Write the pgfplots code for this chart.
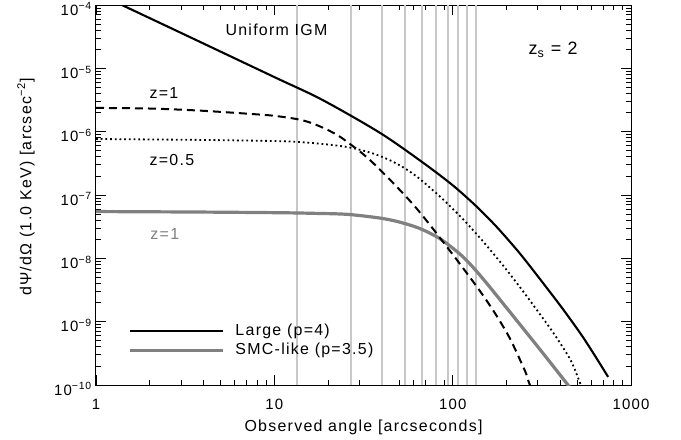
\documentclass[border=0pt]{standalone}
\usepackage{fontspec}
\setmainfont{Liberation Sans}[LetterSpace=8]
\usepackage{pgfplots}
\pgfplotsset{compat=1.18}
\definecolor{smcgray}{RGB}{128,128,128}
\definecolor{linegray}{RGB}{200,200,200}
\newcommand{\lab}{\fontsize{16}{19}\selectfont}
\begin{document}
\begin{tikzpicture}
\useasboundingbox (-96bp,-55bp) rectangle (585bp,385bp);
\begin{axis}[
  scale only axis,
  width=535bp, height=380bp,
  xmode=log, ymode=log,
  xmin=1, xmax=1000, ymin=1e-10, ymax=1e-4,
  xtick={1,10,100,1000},
  xticklabels={1,10,100,1000},
  minor xtick={2,3,4,5,6,7,8,9,20,30,40,50,60,70,80,90,200,300,400,500,600,700,800,900},
  ytick={1e-10,1e-9,1e-8,1e-7,1e-6,1e-5,1e-4},
  yticklabels={10\textsuperscript{−10},10\textsuperscript{−9},10\textsuperscript{−8},
    10\textsuperscript{−7},10\textsuperscript{−6},10\textsuperscript{−5},10\textsuperscript{−4}},
  minor ytick={2e-10,3e-10,4e-10,5e-10,6e-10,7e-10,8e-10,9e-10,
    2e-9,3e-9,4e-9,5e-9,6e-9,7e-9,8e-9,9e-9,
    2e-8,3e-8,4e-8,5e-8,6e-8,7e-8,8e-8,9e-8,
    2e-7,3e-7,4e-7,5e-7,6e-7,7e-7,8e-7,9e-7,
    2e-6,3e-6,4e-6,5e-6,6e-6,7e-6,8e-6,9e-6,
    2e-5,3e-5,4e-5,5e-5,6e-5,7e-5,8e-5,9e-5},
  tick align=inside,
  major tick length=10bp, minor tick length=5bp,
  every tick/.style={black, line width=0.8bp},
  axis line style={line width=1bp},
  tick label style={font=\fontsize{15}{17}\selectfont},
  yticklabel style={inner sep=0pt, anchor=base east, xshift=-4bp, yshift=-10bp},
  xticklabel style={yshift=-11bp},
  xlabel={Observed angle [arcseconds]},
  ylabel={dΨ/dΩ (1.0 KeV) [arcsec\textsuperscript{−2}]},
  label style={font=\lab},
  xlabel style={at={(axis description cs:0.5,-0.111)}, anchor=center},
  ylabel style={at={(axis description cs:-0.131,0.521)}, anchor=center},
  legend style={draw=none, fill=none, inner sep=0pt,
    at={(axis description cs:0.06,0.07)}, anchor=south west,
    font=\lab, row sep=3bp,
    nodes={inner sep=1bp, text height=11bp, text depth=3bp}},
  legend cell align=left,
  legend image code/.code={\draw[#1] (0bp,0bp) -- (93bp,0bp);},
  /tikz/every odd column/.append style={column sep=10bp},
]
% grey vertical lines
\pgfplotsinvokeforeach{13.45,26.9,40.35,53.8,67.25,80.7,94.15,107.6,121.05,134.5}{
  \addplot[linegray, line width=2bp, forget plot] coordinates {(#1,1e-10) (#1,1e-4)};
}
% uniform IGM, large grains
\addplot[black, line width=2.1bp, smooth] coordinates {
  (1.3,1.10e-4) (2.96,3.69e-5) (10,7.28e-6) (18.5,3.20e-6) (39.2,9.55e-7)
  (68.2,3.24e-7) (100.5,1.41e-7) (137.1,6.46e-8) (177.4,3.09e-8) (229.6,1.35e-8)
  (271.6,7.50e-9) (399.9,1.82e-9) (518.8,6.61e-10) (612.4,3.24e-10) (744.7,1.34e-10)};
\addlegendentry{Large (p=4)}
% SMC-like, z=1
\addplot[smcgray, line width=3.2bp, smooth] coordinates {
  (1,5.48e-8) (3.83,5.38e-8) (10.8,5.25e-8) (16.5,5.14e-8) (25.6,4.95e-8)
  (39.2,4.32e-8) (50.7,3.72e-8) (65.6,2.95e-8) (84.9,2.04e-8) (110.2,1.16e-8)
  (130.0,7.24e-9) (158.5,3.76e-9) (209.9,1.41e-9) (309.0,3.63e-10) (437.5,1.05e-10)
  (457.1,8.9e-11)};
\addlegendentry{SMC-like (p=3.5)}
% z=1
\addplot[black, line width=2bp, dash pattern=on 8bp off 5bp, smooth, forget plot] coordinates {
  (1,2.37e-6) (2.01,2.32e-6) (3.83,2.15e-6) (7.31,1.91e-6) (10,1.78e-6)
  (13.4,1.58e-6) (15.67,1.41e-6) (19.01,1.135e-6) (22.75,8.71e-7) (25.88,6.76e-7)
  (31.05,4.57e-7) (35.81,3.20e-7) (40.74,2.24e-7) (46.88,1.50e-7) (56.23,8.71e-8)
  (63.10,6.03e-8) (69.98,4.22e-8) (77.62,2.92e-8) (88.31,1.82e-8) (100.5,1.135e-8)
  (113.0,7.33e-9) (142.6,3.02e-9) (173.0,1.35e-9) (209.9,5.37e-10) (254.7,1.66e-10)
  (263.0,1.26e-10) (275.4,8.9e-11)};
% z=0.5
\addplot[black, line width=1.8bp, dash pattern=on 1.8bp off 2.9bp, smooth, forget plot] coordinates {
  (1,7.66e-7) (3.83,7.41e-7) (10.8,7.08e-7) (16.5,6.61e-7) (21.38,6.14e-7)
  (25.9,5.69e-7) (33.11,4.84e-7) (39.17,4.12e-7) (46.34,3.35e-7) (55.46,2.51e-7)
  (65.61,1.78e-7) (84.92,9.44e-8) (110.2,4.62e-8) (142.6,2.09e-8) (184.5,8.81e-9)
  (223.9,4.42e-9) (271.6,2.14e-9) (365.6,6.76e-10) (455.0,2.57e-10) (507.0,1.26e-10)
  (530.9,8.9e-11)};
\node[anchor=base west, font=\lab] at (axis cs:5.09,3.36e-5) {Uniform IGM};
\node[anchor=base west, font=\lab] at (axis cs:1.91,3.36e-6) {z=1};
\node[anchor=base west, font=\lab] at (axis cs:1.91,2.90e-7) {z=0.5};
\node[anchor=base west, font=\lab, text=smcgray] at (axis cs:1.93,1.95e-8) {z=1};
\node[anchor=base west, font=\fontsize{18}{20}\selectfont] at (axis cs:255,1.65e-5) {z\textsubscript{s} = 2};
\end{axis}
\end{tikzpicture}
\end{document}
